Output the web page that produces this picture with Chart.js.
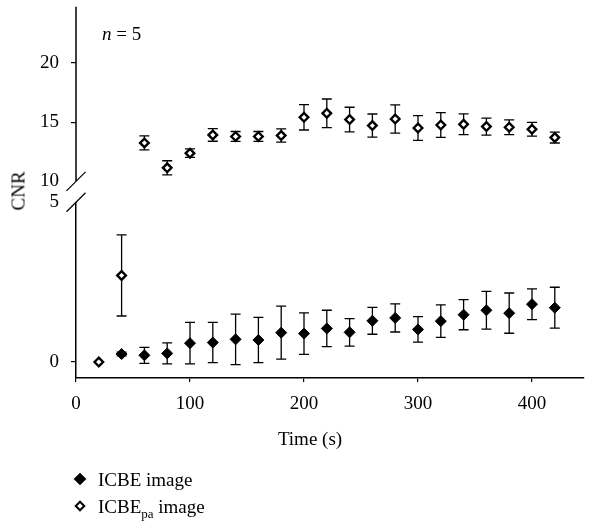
<!DOCTYPE html>
<html><head><meta charset="utf-8">
<script src="https://cdn.jsdelivr.net/npm/chart.js@4"></script>
<style>
html,body{margin:0;padding:0;background:#fff;}
#wrap{position:relative;width:590px;height:522px;font-family:"Liberation Serif",serif;color:#000;overflow:hidden;}
canvas{position:absolute;left:0;top:0;}
.t{position:absolute;font-size:19px;line-height:19px;white-space:nowrap;}
.d{position:absolute;width:9px;height:9px;transform:translate(-50%,-50%) rotate(45deg);box-sizing:border-box;}
</style></head><body>
<div id="wrap">
<canvas id="c" width="590" height="522"></canvas>
<div class="t" style="left:102px;top:24px;"><i>n</i> = 5</div>
<div class="t" style="left:18px;top:191px;transform:translate(-50%,-50%) rotate(-90deg);">CNR</div>
<div class="t" style="left:310px;top:438px;transform:translate(-50%,-50%);">Time (s)</div>
<div class="d" style="left:80px;top:479px;background:#000;"></div>
<div class="t" style="left:98px;top:470px;">ICBE image</div>
<div class="d" style="left:80px;top:506px;background:#fff;border:2.3px solid #000;width:8px;height:8px;"></div>
<div class="t" style="left:98px;top:497px;">ICBE<sub style="font-size:13px;line-height:0;">pa</sub> image</div>
</div>
<script>
// ---- data ----
const timesIcbe = [40,60,80,100,120,140,160,180,200,220,240,260,280,300,320,340,360,380,400,420];
const icbeValues = [0.25,0.21,0.27,0.59,0.61,0.71,0.69,0.92,0.89,1.05,0.93,1.29,1.38,1.02,1.28,1.48,1.62,1.53,1.81,1.70];
const icbeErrors = [0.06,0.25,0.33,0.65,0.63,0.79,0.71,0.83,0.65,0.57,0.43,0.42,0.44,0.40,0.51,0.47,0.59,0.63,0.48,0.64];

const timesPaLow = [20,40];
const paLowValues = [0.0,2.71];
const paLowErrors = [0,1.27];

const timesPaHigh = [60,80,100,120,140,160,180,200,220,240,260,280,300,320,340,360,380,400,420];
const paHighValues = [13.25,11.14,12.38,13.92,13.79,13.79,13.87,15.41,15.75,15.22,14.71,15.27,14.51,14.76,14.82,14.63,14.57,14.40,13.70];
const paHighErrors = [0.59,0.60,0.36,0.53,0.42,0.42,0.56,1.07,1.21,1.04,0.98,1.19,1.04,1.05,0.88,0.72,0.62,0.58,0.46];

const xTickValues = [0,100,200,300,400];
const yLowTickValues = [0,5];
const yHighTickValues = [10,15,20];
const breakLow = 5, breakHigh = 10;

function pts(xs, ys, es){ return xs.map((x,i)=>({x:x, y:ys[i], e:es[i]})); }

const FONT = {family:'"Liberation Serif", serif', size:19};

const errorBars = {
  id:'errorBars',
  beforeDatasetsDraw(chart){
    const ctx = chart.ctx, xs = chart.scales.x;
    chart.data.datasets.forEach(ds=>{
      const ys = chart.scales[ds.yAxisID];
      ds.data.forEach(p=>{
        if(!p.e) return;
        const x = xs.getPixelForValue(p.x);
        const y1 = ys.getPixelForValue(p.y+p.e), y2 = ys.getPixelForValue(p.y-p.e);
        ctx.save();
        ctx.strokeStyle='#000'; ctx.lineWidth=1.3;
        ctx.beginPath();
        ctx.moveTo(x,y1); ctx.lineTo(x,y2);
        ctx.moveTo(x-5,y1); ctx.lineTo(x+5,y1);
        ctx.moveTo(x-5,y2); ctx.lineTo(x+5,y2);
        ctx.stroke(); ctx.restore();
      });
    });
  }
};

const axisBreak = {
  id:'axisBreak',
  afterDraw(chart){
    const ctx = chart.ctx, hi = chart.scales.yHi, lo = chart.scales.yLo;
    const x = chart.chartArea.left;
    const yTop = hi.getPixelForValue(breakHigh);
    const yBot = lo.getPixelForValue(breakLow);
    ctx.save();
    ctx.strokeStyle='#000'; ctx.lineWidth=1.5;
    ctx.beginPath();
    ctx.moveTo(x, hi.top); ctx.lineTo(x, yTop);
    ctx.stroke();
    ctx.lineWidth=1.2;
    ctx.beginPath();
    ctx.moveTo(x-9.5, yTop+9.5); ctx.lineTo(x+9.5, yTop-9.5);
    ctx.moveTo(x-9.5, yBot+9.5); ctx.lineTo(x+9.5, yBot-9.5);
    ctx.stroke();
    ctx.restore();
  }
};

const tickColor = c => (c.tick && (c.tick.value===breakLow || c.tick.value===breakHigh)) ? 'rgba(0,0,0,0)' : '#000';
const noPad = s => { s.paddingTop=0; s.paddingBottom=0; s.paddingLeft=0; s.paddingRight=0; };

new Chart(document.getElementById('c'), {
  type:'scatter',
  data:{datasets:[
    {label:'ICBE image', data:pts(timesIcbe,icbeValues,icbeErrors), yAxisID:'yLo',
     pointStyle:'rectRot', pointRadius:5.5, backgroundColor:'#000', borderColor:'#000', borderWidth:1},
    {label:'ICBEpa image', data:pts(timesPaLow,paLowValues,paLowErrors), yAxisID:'yLo',
     pointStyle:'rectRot', pointRadius:4.3, backgroundColor:'#fff', borderColor:'#000', borderWidth:2.4},
    {label:'ICBEpa image (upper)', data:pts(timesPaHigh,paHighValues,paHighErrors), yAxisID:'yHi',
     pointStyle:'rectRot', pointRadius:4.3, backgroundColor:'#fff', borderColor:'#000', borderWidth:2.4}
  ]},
  options:{
    responsive:false, animation:false, events:[],
    layout:{padding:{left:40, right:0, top:4, bottom:106}},
    plugins:{legend:{display:false}, tooltip:{enabled:false}},
    scales:{
      x:{type:'linear', position:'bottom', min:0, max:445,
         afterBuildTicks:s=>{s.ticks = xTickValues.map(v=>({value:v}));},
         afterFit:s=>{s.height=38; noPad(s);},
         ticks:{font:FONT, color:'#000', padding:11, maxRotation:0},
         grid:{drawOnChartArea:false, color:'#000', tickLength:4, lineWidth:1.2},
         border:{color:'#000', width:1.5}},
      yLo:{type:'linear', position:'left', stack:'y', stackWeight:177, min:-0.5, max:5,
         afterBuildTicks:s=>{s.ticks = yLowTickValues.map(v=>({value:v}));},
         afterFit:s=>{s.width=36; noPad(s);},
         ticks:{font:FONT, color:'#000', padding:12},
         grid:{drawOnChartArea:false, color:tickColor, tickLength:5, lineWidth:1.2},
         border:{color:'#000', width:1.5}},
      yHi:{type:'linear', position:'left', stack:'y', stackWeight:197, min:8.23, max:24.76,
         afterBuildTicks:s=>{s.ticks = yHighTickValues.map(v=>({value:v}));},
         afterFit:s=>{s.width=36; noPad(s);},
         ticks:{font:FONT, color:'#000', padding:12},
         grid:{drawOnChartArea:false, color:tickColor, tickLength:5, lineWidth:1.2},
         border:{display:false}}
    }
  },
  plugins:[errorBars, axisBreak]
});
</script>
</body></html>
